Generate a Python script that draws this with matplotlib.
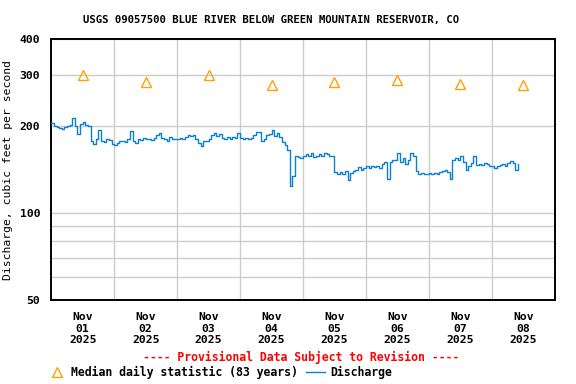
import matplotlib
matplotlib.use("Agg")
import matplotlib.pyplot as plt
from matplotlib.ticker import FixedLocator, FixedFormatter, NullFormatter
import numpy as np

# hourly discharge (cfs), starting Nov 01 2025 00:00
day1 = [205, 200, 198, 197, 196, 198, 200, 202, 214, 200, 188, 204,
        206, 202, 200, 178, 174, 180, 194, 178, 176, 180, 179, 174]
day2 = [172, 175, 177, 178, 176, 180, 193, 178, 175, 181, 179, 182,
        180, 181, 179, 182, 186, 190, 182, 181, 178, 183, 181, 181]
day3 = [180, 182, 181, 184, 187, 185, 186, 180, 175, 171, 177, 178,
        180, 186, 190, 185, 188, 182, 181, 183, 181, 184, 182, 190]
day4 = [182, 181, 182, 180, 182, 186, 191, 191, 178, 180, 186, 188,
        194, 185, 190, 184, 176, 172, 165, 124, 134, 157, 156, 155]
day5 = [157, 160, 158, 161, 156, 158, 160, 157, 162, 160, 158, 157,
        139, 137, 139, 137, 140, 130, 138, 140, 141, 144, 141, 143]
day6 = [145, 143, 145, 144, 145, 143, 148, 150, 131, 150, 153, 152,
        162, 150, 155, 148, 152, 162, 158, 140, 137, 138, 136, 137]
day7 = [138, 137, 138, 136, 139, 140, 141, 139, 131, 152, 155, 153,
        157, 150, 141, 146, 149, 157, 147, 148, 147, 149, 148, 145]
day8 = [145, 143, 145, 147, 148, 146, 149, 151, 149, 141, 148]
discharge = day1 + day2 + day3 + day4 + day5 + day6 + day7 + day8

# median daily statistic (83 years), one per day at noon
median_vals = [300, 284, 300, 278, 284, 288, 279, 278]
day_labels = ["Nov\n01\n2025", "Nov\n02\n2025", "Nov\n03\n2025", "Nov\n04\n2025",
              "Nov\n05\n2025", "Nov\n06\n2025", "Nov\n07\n2025", "Nov\n08\n2025"]

hours = np.arange(len(discharge))
median_hours = np.arange(len(median_vals)) * 24 + 12

plt.rcParams["font.family"] = "DejaVu Sans Mono"
plt.rcParams["font.weight"] = "bold"

fig = plt.figure(figsize=(5.76, 3.84), dpi=100)
ax = fig.add_axes([0.089, 0.219, 0.874, 0.679])

ax.plot(hours, discharge, color="#0a80d2", lw=1.0, drawstyle="steps-post",
        label="Discharge", zorder=3)
ax.plot(median_hours, median_vals, ls="none", marker="^", ms=7, mfc="none",
        mec="#ffa000", mew=1.0, label="Median daily statistic (83 years)", zorder=4)

ax.set_yscale("log")
ax.set_ylim(50, 400)
ax.set_xlim(0, 192)

ax.yaxis.set_major_locator(FixedLocator([50, 100, 200, 300, 400]))
ax.yaxis.set_major_formatter(FixedFormatter(["50", "100", "200", "300", "400"]))
ax.yaxis.set_minor_locator(FixedLocator([60, 70, 80, 90]))
ax.yaxis.set_minor_formatter(NullFormatter())

ax.set_xticks(median_hours)
ax.set_xticklabels(day_labels, linespacing=1.15)
ax.set_xticks(np.arange(24, 192, 24), minor=True)

ax.grid(True, which="both", axis="both", color="#cccccc", lw=1.0)
ax.grid(False, which="major", axis="x")
ax.tick_params(which="both", length=0)
ax.tick_params(axis="x", pad=9, labelsize=8.2)
ax.tick_params(axis="y", pad=8, labelsize=8.2)
for s in ax.spines.values():
    s.set_linewidth(1.4)
    s.set_color("black")

ax.set_ylabel("Discharge, cubic feet per second", fontsize=8.2)
ax.yaxis.set_label_coords(-0.077, 0.5)

fig.text(0.47, 0.948, "USGS 09057500 BLUE RIVER BELOW GREEN MOUNTAIN RESERVOIR, CO",
         ha="center", va="center", fontsize=7.7)
fig.text(0.523, 0.068, "---- Provisional Data Subject to Revision ----",
         ha="center", va="center", fontsize=8.3, color="red")

handles, labels = ax.get_legend_handles_labels()
fig.legend(handles[::-1], labels[::-1], loc="center left", bbox_to_anchor=(0.083, 0.031),
           ncol=2, frameon=False, fontsize=8.3, handlelength=1.6, handletextpad=0.45,
           columnspacing=0.7, borderpad=0, borderaxespad=0)

fig.savefig("out.png", dpi=100)
